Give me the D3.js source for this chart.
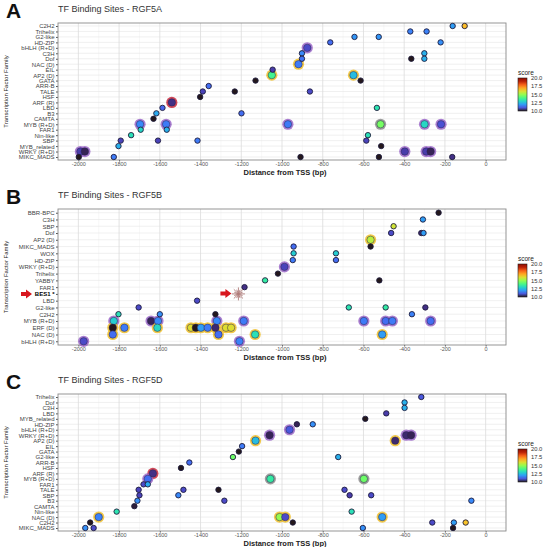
<!DOCTYPE html>
<html>
<head>
<meta charset="utf-8">
<script src="https://cdn.jsdelivr.net/npm/d3@7"></script>
<style>
  body { margin: 0; background: #fff; }
  text { font-family: "Liberation Sans", Arial, sans-serif; }
</style>
</head>
<body>
<div id="chart"></div>
<script>
// x axis ticks (bp from TSS)
var xTicks = [-2000, -1800, -1600, -1400, -1200, -1000, -800, -600, -400, -200, 0];
var legendTicks = [10.0, 12.5, 15.0, 17.5, 20.0];

// families, top to bottom
var famA = ["C2H2","Trihelix","G2-like","HD-ZIP","bHLH (R+D)","C3H","Dof","NAC (D)","EIL","AP2 (D)",
  "GATA","ARR-B","TALE","HSF","ARF (R)","LBD","B3","CAMTA","MYB (R+D)","FAR1","Nin-like","SBP",
  "MYB_related","WRKY (R+D)","MIKC_MADS"];
var famB = ["BBR-BPC","C3H","SBP","Dof","AP2 (D)","MIKC_MADS","WOX","HD-ZIP","WRKY (R+D)","Trihelix",
  "YABBY","FAR1","BES1 *","LBD","G2-like","C2H2","MYB (R+D)","ERF (D)","NAC (D)","bHLH (R+D)"];
var famC = ["Trihelix","Dof","C3H","LBD","MYB_related","HD-ZIP","bHLH (R+D)","WRKY (R+D)","AP2 (D)","EIL",
  "GATA","G2-like","ARR-B","HSF","ARF (R)","MYB (R+D)","FAR1","TALE","SBP","B3","CAMTA","Nin-like",
  "NAC (D)","C2H2","MIKC_MADS"];

// sites: [family, distance, score, ring]  ring: "" small, p purple, y yellow, r red, g grey
var sitesA = [
  ["C2H2",-162,12],["C2H2",-103,16.6],
  ["Trihelix",-370,11.6],["Trihelix",-290,11.6],
  ["G2-like",-644,11.9],["G2-like",-525,11.9],
  ["HD-ZIP",-763,11.3],["HD-ZIP",-221,11.8],
  ["bHLH (R+D)",-876,10.8,"p"],
  ["C3H",-902,11.7],["C3H",-301,12.3],
  ["Dof",-902,11.4],["Dof",-365,10],["Dof",-301,12.3],
  ["NAC (D)",-919,11.5,"y"],
  ["EIL",-1046,10.6],
  ["AP2 (D)",-1050,13.8,"y"],["AP2 (D)",-649,12.5,"y"],
  ["GATA",-1130,10],["GATA",-614,10],
  ["ARR-B",-1360,11.3],
  ["TALE",-1389,10.7],["TALE",-1232,10],["TALE",-863,10.8],
  ["HSF",-1402,10],
  ["ARF (R)",-1541,10.4,"r"],
  ["LBD",-1587,11.2],["LBD",-534,13.3],
  ["B3",-1617,12.2],["B3",-1199,11.3],
  ["CAMTA",-1631,10],
  ["MYB (R+D)",-1697,11.7,"p"],["MYB (R+D)",-1569,11.5,"p"],["MYB (R+D)",-971,11.5,"p"],
  ["MYB (R+D)",-516,14.6,"g"],["MYB (R+D)",-300,13,"p"],["MYB (R+D)",-219,10.9,"p"],
  ["FAR1",-1694,13],["FAR1",-1566,12.3],
  ["Nin-like",-1741,13.2],["Nin-like",-578,13.2],
  ["SBP",-1792,10.7],["SBP",-1609,10.7],["SBP",-1415,11.5],["SBP",-586,10.7],
  ["MYB_related",-1803,12.3],["MYB_related",-513,10],
  ["WRKY (R+D)",-1990,10.6,"p"],["WRKY (R+D)",-1968,10.2,"p"],["WRKY (R+D)",-397,10.6,"p"],
  ["WRKY (R+D)",-292,10.6,"p"],["WRKY (R+D)",-270,10.2,"p"],
  ["MIKC_MADS",-1998,10],["MIKC_MADS",-1826,11.5],["MIKC_MADS",-909,10],["MIKC_MADS",-524,10],
  ["MIKC_MADS",-164,10.4]
];
var sitesB = [
  ["BBR-BPC",-231,10],
  ["C3H",-308,12],
  ["SBP",-452,15.8],
  ["Dof",-464,10.8],["Dof",-316,10.3],["Dof",-305,12],
  ["AP2 (D)",-565,15.5,"y"],
  ["MIKC_MADS",-565,10],["MIKC_MADS",-943,11.3],
  ["WOX",-943,12.8],["WOX",-735,12.8],
  ["HD-ZIP",-947,11.5],["HD-ZIP",-735,11.3],
  ["WRKY (R+D)",-988,10.7,"p"],
  ["Trihelix",-1020,10],
  ["YABBY",-1083,13.5],["YABBY",-522,10],
  ["FAR1",-1184,10.4],
  ["LBD",-1417,10.8],
  ["G2-like",-1704,10.8],["G2-like",-672,13.3],["G2-like",-491,13.5],["G2-like",-296,10.4],
  ["C2H2",-1803,13.2],["C2H2",-1600,11.8],["C2H2",-1327,10],["C2H2",-362,11.6],
  ["MYB (R+D)",-1826,12.8,"p"],["MYB (R+D)",-1643,10.2,"p"],["MYB (R+D)",-1609,11.7,"p"],
  ["MYB (R+D)",-1320,11.7,"p"],["MYB (R+D)",-1188,11.5,"p"],["MYB (R+D)",-598,11.5,"p"],
  ["MYB (R+D)",-491,11.3,"p"],["MYB (R+D)",-458,11.5,"p"],["MYB (R+D)",-270,11.3,"p"],
  ["ERF (D)",-1831,10,"y"],["ERF (D)",-1774,11.5,"y"],["ERF (D)",-1612,13,"y"],
  ["ERF (D)",-1447,16,"y"],["ERF (D)",-1423,10,"y"],["ERF (D)",-1398,12,"y"],
  ["ERF (D)",-1365,11.5,"y"],["ERF (D)",-1327,10.3,"y"],["ERF (D)",-1275,16,"y"],
  ["ERF (D)",-1250,16,"y"],
  ["NAC (D)",-1831,11.3,"y"],["NAC (D)",-1312,11.3,"y"],["NAC (D)",-1132,13.2,"y"],["NAC (D)",-508,12,"y"],
  ["bHLH (R+D)",-1974,10.8,"p"],["bHLH (R+D)",-1209,11.6,"p"]
];
var sitesC = [
  ["Trihelix",-316,11],
  ["Dof",-398,12.3],
  ["C3H",-398,12.3],
  ["LBD",-488,10.6],
  ["MYB_related",-591,10],
  ["HD-ZIP",-927,10.2],["HD-ZIP",-849,11.8],
  ["bHLH (R+D)",-963,11,"p"],
  ["WRKY (R+D)",-1061,10.2,"p"],["WRKY (R+D)",-390,10.3,"p"],["WRKY (R+D)",-366,10.2,"p"],
  ["AP2 (D)",-1130,12.5,"y"],["AP2 (D)",-444,10.3,"y"],
  ["EIL",-1196,11.5],
  ["GATA",-1212,10],
  ["G2-like",-1241,14.5],["G2-like",-724,12.3],
  ["ARR-B",-1455,11.3],
  ["HSF",-1496,10],
  ["ARF (R)",-1634,10.4,"r"],
  ["MYB (R+D)",-1659,11.3,"p"],["MYB (R+D)",-1057,13.5,"g"],["MYB (R+D)",-598,14.5,"g"],
  ["FAR1",-1680,10.8],["FAR1",-1659,12.2],
  ["TALE",-1704,10.7],["TALE",-1484,10.8],["TALE",-1312,10],["TALE",-693,10.8],
  ["SBP",-1700,10.7],["SBP",-1509,11.7],["SBP",-668,10.6],["SBP",-562,10.8],
  ["B3",-1710,11.8],["B3",-1283,10.8],["B3",-70,11.7],
  ["CAMTA",-1725,10.1],
  ["Nin-like",-1812,13.3],["Nin-like",-658,13.2],
  ["NAC (D)",-1900,11.6,"y"],["NAC (D)",-1012,15,"y"],["NAC (D)",-984,10.8,"y"],["NAC (D)",-508,12,"y"],
  ["C2H2",-1942,10],["C2H2",-947,10],["C2H2",-262,10.8],["C2H2",-156,12],["C2H2",-98,16.5],
  ["MIKC_MADS",-1966,11.8],["MIKC_MADS",-1925,10.8],["MIKC_MADS",-603,11.8],["MIKC_MADS",-160,10]
];

// BES1 site marked with a star in panel B
var besSite = ["BES1 *", -1214];

var ringColor = {p: "#9a66c8", y: "#f0c02a", r: "#c8283c", g: "#8c8c8c"};

var W = 550, H = 547;
var svg = d3.select("#chart").append("svg").attr("width", W).attr("height", H);

var color = d3.scaleSequential(d3.interpolateTurbo).domain([10, 20]);

// gradient for the colour bar
var grad = svg.append("defs").append("linearGradient")
  .attr("id", "turbo").attr("x1", 0).attr("y1", 1).attr("x2", 0).attr("y2", 0);
d3.range(0, 1.01, 0.1).forEach(function(t) {
  grad.append("stop").attr("offset", t).attr("stop-color", d3.interpolateTurbo(t));
});

var panels = [
  {letter: "A", title: "TF Binding Sites - RGF5A", top: 23, bottom: 160, fam: famA, sites: sitesA},
  {letter: "B", title: "TF Binding Sites - RGF5B", top: 209, bottom: 345, fam: famB, sites: sitesB},
  {letter: "C", title: "TF Binding Sites - RGF5D", top: 394, bottom: 531, fam: famC, sites: sitesC}
];

var left = 58, right = 506;

panels.forEach(function(p) {
  var x = d3.scaleLinear().domain([-2100, 100]).range([left, right]);
  var y = d3.scalePoint().domain(p.fam).range([p.top, p.bottom]).padding(0.55);

  var g = svg.append("g");

  // letter + title
  g.append("text").attr("x", 6).attr("y", p.top - 5)
    .style("font-size", "21px").style("font-weight", "bold").attr("fill", "#111")
    .text(p.letter);
  g.append("text").attr("x", left).attr("y", p.top - 11)
    .style("font-size", "9px").attr("fill", "#333")
    .text(p.title);

  // panel background
  g.append("rect").attr("x", left).attr("y", p.top)
    .attr("width", right - left).attr("height", p.bottom - p.top).attr("fill", "#fff");

  // minor vertical grid
  g.selectAll(".minor").data(d3.range(-1900, 100, 200)).enter().append("line")
    .attr("x1", function(d) { return x(d); }).attr("x2", function(d) { return x(d); })
    .attr("y1", p.top).attr("y2", p.bottom)
    .attr("stroke", "#f1f1f1").attr("stroke-width", 0.5);
  // horizontal grid
  g.selectAll(".hgrid").data(p.fam).enter().append("line")
    .attr("x1", left).attr("x2", right)
    .attr("y1", function(d) { return y(d); }).attr("y2", function(d) { return y(d); })
    .attr("stroke", "#e6e6e6").attr("stroke-width", 0.6);
  // major vertical grid
  g.selectAll(".vgrid").data(xTicks).enter().append("line")
    .attr("x1", function(d) { return x(d); }).attr("x2", function(d) { return x(d); })
    .attr("y1", p.top).attr("y2", p.bottom)
    .attr("stroke", "#dcdcdc").attr("stroke-width", 0.8);

  // axes
  var xAxis = g.append("g").attr("transform", "translate(0," + p.bottom + ")")
    .call(d3.axisBottom(x).tickValues(xTicks).tickSize(1.5).tickPadding(0.5).tickFormat(function(d) { return d; }));
  xAxis.select(".domain").remove();
  xAxis.selectAll("line").attr("stroke", "#555");
  xAxis.selectAll("text").style("font-size", "5.5px").attr("fill", "#555");

  var yAxis = g.append("g").attr("transform", "translate(" + left + ",0)")
    .call(d3.axisLeft(y).tickSize(2).tickPadding(1.5));
  yAxis.select(".domain").remove();
  yAxis.selectAll("line").attr("stroke", "#555");
  yAxis.selectAll("text").style("font-size", "6px")
    .style("font-weight", function(d) { return d === "BES1 *" ? "bold" : null; })
    .attr("fill", function(d) { return d === "BES1 *" ? "#000" : "#444"; });

  // border
  g.append("rect").attr("x", left).attr("y", p.top)
    .attr("width", right - left).attr("height", p.bottom - p.top)
    .attr("fill", "none").attr("stroke", "#8a8a8a").attr("stroke-width", 0.9);

  // axis titles
  g.append("text").attr("x", (left + right) / 2 + 3).attr("y", p.bottom + 14.5)
    .attr("text-anchor", "middle").style("font-size", "7.5px").style("font-weight", "bold")
    .attr("fill", "#222").text("Distance from TSS (bp)");
  g.append("text")
    .attr("transform", "translate(8," + ((p.top + p.bottom) / 2) + ") rotate(-90)")
    .attr("text-anchor", "middle").style("font-size", "6px").attr("fill", "#222")
    .text("Transcription Factor Family");

  // sites: large first, small on top
  var big = p.sites.filter(function(d) { return d[3]; });
  var small = p.sites.filter(function(d) { return !d[3]; });

  g.selectAll(".ring").data(big).enter().append("circle")
    .attr("cx", function(d) { return x(d[1]); }).attr("cy", function(d) { return y(d[0]); })
    .attr("r", 5.6).attr("fill", function(d) { return ringColor[d[3]]; }).attr("opacity", 0.85);
  g.selectAll(".bigdot").data(big).enter().append("circle")
    .attr("cx", function(d) { return x(d[1]); }).attr("cy", function(d) { return y(d[0]); })
    .attr("r", 3.7).attr("fill", function(d) { return color(d[2]); })
    .attr("stroke", "#2a2450").attr("stroke-width", 0.5);
  g.selectAll(".dot").data(small).enter().append("circle")
    .attr("cx", function(d) { return x(d[1]); }).attr("cy", function(d) { return y(d[0]); })
    .attr("r", 2.7).attr("fill", function(d) { return color(d[2]); })
    .attr("stroke", "#1e1c3c").attr("stroke-width", 0.9);

  // BES1 marker
  if (p.fam.indexOf(besSite[0]) >= 0) {
    var sx = x(besSite[1]), sy = y(besSite[0]);
    var star = g.append("g").attr("transform", "translate(" + sx + "," + sy + ")");
    d3.range(0, 180, 22.5).forEach(function(a) {
      var rad = a * Math.PI / 180, len = a % 45 === 0 ? 6.5 : 4.5;
      star.append("line")
        .attr("x1", -len * Math.cos(rad)).attr("y1", -len * Math.sin(rad))
        .attr("x2", len * Math.cos(rad)).attr("y2", len * Math.sin(rad))
        .attr("stroke", "#b07a78").attr("stroke-width", 0.9);
    });
    var arrow = function(ax, ay) {
      g.append("path")
        .attr("d", "M" + (ax - 6) + "," + (ay - 2) + "H" + (ax - 1) + "V" + (ay - 4.5) +
          "L" + (ax + 5) + "," + ay + "L" + (ax - 1) + "," + (ay + 4.5) + "V" + (ay + 2) + "H" + (ax - 6) + "Z")
        .attr("fill", "#d8161e");
    };
    arrow(sx - 12, sy - 0.5);
    arrow(27, sy);
  }

  // colour legend
  var lx = 518, lTop = p.top + 55, lH = 33;
  var ls = d3.scaleLinear().domain([10, 20]).range([lTop + lH, lTop]);
  g.append("text").attr("x", lx).attr("y", lTop - 3).style("font-size", "6.5px").attr("fill", "#222").text("score");
  g.append("rect").attr("x", lx).attr("y", lTop).attr("width", 9).attr("height", lH)
    .attr("fill", "url(#turbo)").attr("stroke", "#222").attr("stroke-width", 0.6);
  g.selectAll(".lt").data(legendTicks).enter().append("text")
    .attr("x", lx + 13).attr("y", function(d) { return ls(d) + 2; })
    .style("font-size", "5.8px").attr("fill", "#333")
    .text(function(d) { return d.toFixed(1); });
});
</script>
</body>
</html>
